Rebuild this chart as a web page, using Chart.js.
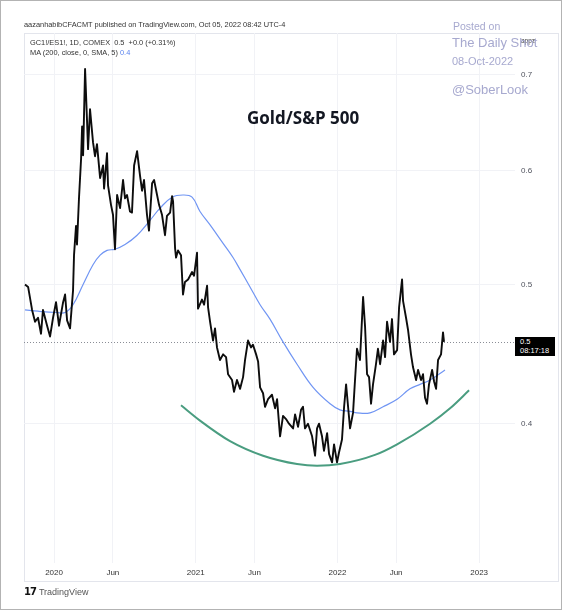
<!DOCTYPE html>
<html>
<head>
<meta charset="utf-8">
<script src="https://cdn.jsdelivr.net/npm/chart.js@4.4.0/dist/chart.umd.min.js"></script>
<style>
  body { margin: 0; background: #fff; }
  #wrap { position: relative; width: 564px; height: 612px; overflow: hidden; font-family: "Liberation Sans", Arial, sans-serif; }
  #chart { position: absolute; left: 0; top: 0; }
  .abs { position: absolute; white-space: nowrap; }
  #outer { left: 0; top: 0; width: 560px; height: 608px; border: 1px solid #b3b3b3; }
  #inner { left: 24px; top: 33px; width: 533px; height: 547px; border: 1px solid #e3e5ec; }
  .meta { font-size: 7.4px; color: #333; line-height: 9px; }
  .mark { color: #a7a9cf; line-height: 1; }
  #title { left: 247px; top: 108px; font-family: "Open Sans", "Noto Sans", sans-serif; font-weight: bold; font-size: 17px; color: #131722; line-height: 20px; }
  #lastBox { left: 515px; width: 40px; height: 19px; background: #000; color: #fff; font-size: 7.5px; line-height: 8.5px; padding: 1px 0 0 5px; box-sizing: border-box; }
  #tv { left: 24px; top: 586px; font-size: 9px; color: #555; line-height: 11px; }
  #tv b { color: #111; font-family: "DejaVu Sans", sans-serif; font-size: 10px; letter-spacing: -1px; margin-right: 3px; }
</style>
</head>
<body>
<div id="wrap">
  <div id="outer" class="abs"></div>
  <div id="inner" class="abs"></div>
  <canvas id="chart" width="564" height="612"></canvas>

  <div class="abs meta" style="left:24px; top:20px;">aazanhabibCFACMT published on TradingView.com, Oct 05, 2022 08:42 UTC-4</div>
  <div class="abs meta" style="left:30px; top:38px;">GC1!/ES1!, 1D, COMEX&nbsp; 0.5&nbsp; +0.0 (+0.31%)</div>
  <div class="abs meta" style="left:30px; top:48px;">MA (200, close, 0, SMA, 5)&nbsp;<span style="color:#5b84ee">0.4</span></div>
  <div class="abs meta" style="left:521px; top:36px; font-size:6.5px;">appz</div>

  <div class="abs mark" style="left:453px; top:21px; font-size:10.5px;">Posted on</div>
  <div class="abs mark" style="left:452px; top:36px; font-size:13px;">The Daily Shot</div>
  <div class="abs mark" style="left:452px; top:56px; font-size:11px;">08-Oct-2022</div>
  <div class="abs mark" style="left:452px; top:83px; font-size:13px;">@SoberLook</div>

  <div id="title" class="abs">Gold/S&amp;P 500</div>
  <div id="lastBox" class="abs" style="top:340px;"><div>0.5</div><div>08:17:18</div></div>
  <div id="tv" class="abs"><b>17</b>TradingView</div>
</div>

<script>
//------------------ Data ------------------//
// time as decimal years, values of the GC1!/ES1! ratio
const ratioYears = [
  2019.795, 2019.817, 2019.845, 2019.866, 2019.887, 2019.908, 2019.922, 2019.951, 2019.972, 2019.993,
  2020.014, 2020.035, 2020.064, 2020.078, 2020.092, 2020.113, 2020.134, 2020.141, 2020.155, 2020.162,
  2020.176, 2020.191, 2020.198, 2020.205, 2020.219, 2020.233, 2020.240, 2020.254, 2020.275, 2020.289,
  2020.303, 2020.325, 2020.346, 2020.353, 2020.374, 2020.381, 2020.402, 2020.416, 2020.430, 2020.445,
  2020.466, 2020.487, 2020.501, 2020.515, 2020.536, 2020.550, 2020.565, 2020.586, 2020.607, 2020.621,
  2020.635, 2020.656, 2020.670, 2020.692, 2020.706, 2020.727, 2020.741, 2020.762, 2020.783, 2020.797,
  2020.819, 2020.833, 2020.840, 2020.854, 2020.861, 2020.875, 2020.896, 2020.910, 2020.924, 2020.946,
  2020.974, 2020.988, 2021.009, 2021.016, 2021.044, 2021.059, 2021.080, 2021.087, 2021.101, 2021.122,
  2021.136, 2021.150, 2021.171, 2021.193, 2021.214, 2021.228, 2021.256, 2021.270, 2021.291, 2021.313,
  2021.334, 2021.348, 2021.369, 2021.390, 2021.404, 2021.426, 2021.440, 2021.454, 2021.475, 2021.489,
  2021.510, 2021.538, 2021.560, 2021.574, 2021.595, 2021.616, 2021.637, 2021.658, 2021.687, 2021.701,
  2021.722, 2021.743, 2021.757, 2021.771, 2021.792, 2021.821, 2021.842, 2021.856, 2021.870, 2021.891,
  2021.905, 2021.927, 2021.941, 2021.962, 2021.976, 2021.997, 2022.011, 2022.032, 2022.047, 2022.061,
  2022.075, 2022.089, 2022.110, 2022.124, 2022.138, 2022.159, 2022.181, 2022.195, 2022.209, 2022.223,
  2022.237, 2022.251, 2022.272, 2022.286, 2022.301, 2022.322, 2022.336, 2022.350, 2022.371, 2022.385,
  2022.399, 2022.421, 2022.435, 2022.456, 2022.463, 2022.484, 2022.498, 2022.519, 2022.533, 2022.555,
  2022.569, 2022.590, 2022.604, 2022.618, 2022.632, 2022.646, 2022.668, 2022.682, 2022.696, 2022.710,
  2022.731, 2022.745, 2022.752
];
const ratioValues = [
  0.500, 0.498, 0.480, 0.471, 0.474, 0.462, 0.480, 0.468, 0.460, 0.474,
  0.486, 0.468, 0.486, 0.492, 0.472, 0.466, 0.495, 0.524, 0.549, 0.533,
  0.574, 0.612, 0.644, 0.615, 0.706, 0.649, 0.621, 0.662, 0.628, 0.614,
  0.626, 0.593, 0.605, 0.583, 0.617, 0.586, 0.568, 0.559, 0.529, 0.577,
  0.565, 0.591, 0.574, 0.577, 0.562, 0.561, 0.605, 0.619, 0.595, 0.581,
  0.591, 0.559, 0.545, 0.588, 0.591, 0.577, 0.568, 0.559, 0.541, 0.558,
  0.561, 0.576, 0.571, 0.530, 0.522, 0.528, 0.524, 0.492, 0.502, 0.504,
  0.510, 0.507, 0.526, 0.481, 0.488, 0.484, 0.499, 0.482, 0.471, 0.457,
  0.466, 0.452, 0.443, 0.447, 0.445, 0.433, 0.429, 0.421, 0.429, 0.423,
  0.431, 0.443, 0.457, 0.452, 0.454, 0.447, 0.442, 0.424, 0.420, 0.411,
  0.416, 0.419, 0.410, 0.416, 0.392, 0.405, 0.403, 0.400, 0.397, 0.406,
  0.398, 0.409, 0.411, 0.397, 0.400, 0.392, 0.380, 0.397, 0.400, 0.392,
  0.383, 0.394, 0.381, 0.376, 0.387, 0.376, 0.382, 0.390, 0.411, 0.426,
  0.411, 0.397, 0.407, 0.429, 0.451, 0.443, 0.490, 0.467, 0.433, 0.431,
  0.413, 0.426, 0.440, 0.451, 0.440, 0.457, 0.445, 0.471, 0.456, 0.473,
  0.447, 0.450, 0.482, 0.504, 0.487, 0.474, 0.465, 0.447, 0.438, 0.429,
  0.436, 0.429, 0.433, 0.417, 0.413, 0.426, 0.436, 0.428, 0.423, 0.443,
  0.447, 0.463, 0.456
];

// 200-day SMA
const maYears = [
  2019.795, 2019.887, 2020.021, 2020.078, 2020.134, 2020.205, 2020.275, 2020.325, 2020.374, 2020.430,
  2020.501, 2020.586, 2020.677, 2020.748, 2020.833, 2020.910, 2020.974, 2021.030, 2021.101, 2021.193,
  2021.263, 2021.313, 2021.383, 2021.454, 2021.524, 2021.616, 2021.715, 2021.828, 2021.948, 2022.018,
  2022.089, 2022.138, 2022.230, 2022.322, 2022.421, 2022.512, 2022.583, 2022.654, 2022.759
];
const maValues = [
  0.480, 0.479, 0.478, 0.478, 0.484, 0.500, 0.516, 0.524, 0.528, 0.529,
  0.533, 0.541, 0.554, 0.565, 0.575, 0.577, 0.575, 0.562, 0.550, 0.534,
  0.522, 0.512, 0.498, 0.484, 0.473, 0.456, 0.440, 0.424, 0.413, 0.409,
  0.408, 0.407, 0.407, 0.411, 0.416, 0.423, 0.426, 0.429, 0.436
];

// hand-drawn green arc under the bottom
const arcYears = [2020.896, 2021.030, 2021.242, 2021.475, 2021.715, 2021.856, 2022.018, 2022.265, 2022.421, 2022.654, 2022.795, 2022.929];
const arcValues = [0.412, 0.402, 0.389, 0.380, 0.375, 0.374, 0.375, 0.3805, 0.387, 0.400, 0.410, 0.422];

// axes
const xTicks = [2020, 2020.415, 2021, 2021.414, 2022, 2022.414, 2023];
const xTickLabels = ['2020', 'Jun', '2021', 'Jun', '2022', 'Jun', '2023'];
const yTicks = [0.4, 0.5, 0.6, 0.7];
const xMin = 2019.788, xMax = 2023.253;
const yMin = 0.3227, yMax = 0.748;

const lastValue = ratioValues[ratioValues.length - 1];

function pts(xs, ys) {
  return xs.map((x, i) => ({ x: x, y: ys[i] }));
}

//------------------ Last price line + label ------------------//
const lastLine = {
  id: 'lastLine',
  beforeDatasetsDraw(chart) {
    const { ctx, chartArea, scales } = chart;
    const y = Math.round(scales.y.getPixelForValue(lastValue)) + 0.5;
    ctx.save();
    ctx.strokeStyle = '#8a8d96';
    ctx.lineWidth = 1;
    ctx.setLineDash([1, 2]);
    ctx.beginPath();
    ctx.moveTo(chartArea.left, y);
    ctx.lineTo(chartArea.right, y);
    ctx.stroke();
    ctx.restore();
    document.getElementById('lastBox').style.top = (y - 5.5) + 'px';
  }
};

//------------------ Chart ------------------//
const ctx = document.getElementById('chart').getContext('2d');
new Chart(ctx, {
  type: 'line',
  data: {
    datasets: [
      { data: pts(ratioYears, ratioValues), borderColor: '#0d0d0d', borderWidth: 1.9, pointRadius: 0, tension: 0, borderJoinStyle: 'round' },
      { data: pts(maYears, maValues), borderColor: '#7095f3', borderWidth: 1.2, pointRadius: 0, tension: 0.4 },
      { data: pts(arcYears, arcValues), borderColor: '#4a9d80', borderWidth: 2, pointRadius: 0, cubicInterpolationMode: 'monotone' }
    ]
  },
  options: {
    responsive: false,
    animation: false,
    layout: { padding: { left: 24, top: 33, right: 6, bottom: 31 } },
    plugins: { legend: { display: false }, tooltip: { enabled: false } },
    scales: {
      x: {
        type: 'linear',
        min: xMin,
        max: xMax,
        afterBuildTicks: scale => { scale.ticks = xTicks.map(v => ({ value: v })); },
        afterFit: scale => { scale.height = 18; },
        grid: { color: '#f1f2f6', drawTicks: false },
        border: { display: false },
        ticks: {
          autoSkip: false, maxRotation: 0, padding: 5,
          color: '#333', font: { family: 'Liberation Sans', size: 8 },
          callback: (v, i) => xTickLabels[i]
        }
      },
      y: {
        type: 'logarithmic',
        position: 'right',
        min: yMin,
        max: yMax,
        afterBuildTicks: scale => { scale.ticks = yTicks.map(v => ({ value: v })); },
        afterFit: scale => { scale.width = 43; },
        grid: { color: '#f1f2f6', drawTicks: false },
        border: { display: false },
        ticks: {
          padding: 6,
          color: '#50535e', font: { family: 'Liberation Sans', size: 8 },
          callback: v => Number(v).toFixed(1)
        }
      }
    }
  },
  plugins: [lastLine]
});
</script>
</body>
</html>
